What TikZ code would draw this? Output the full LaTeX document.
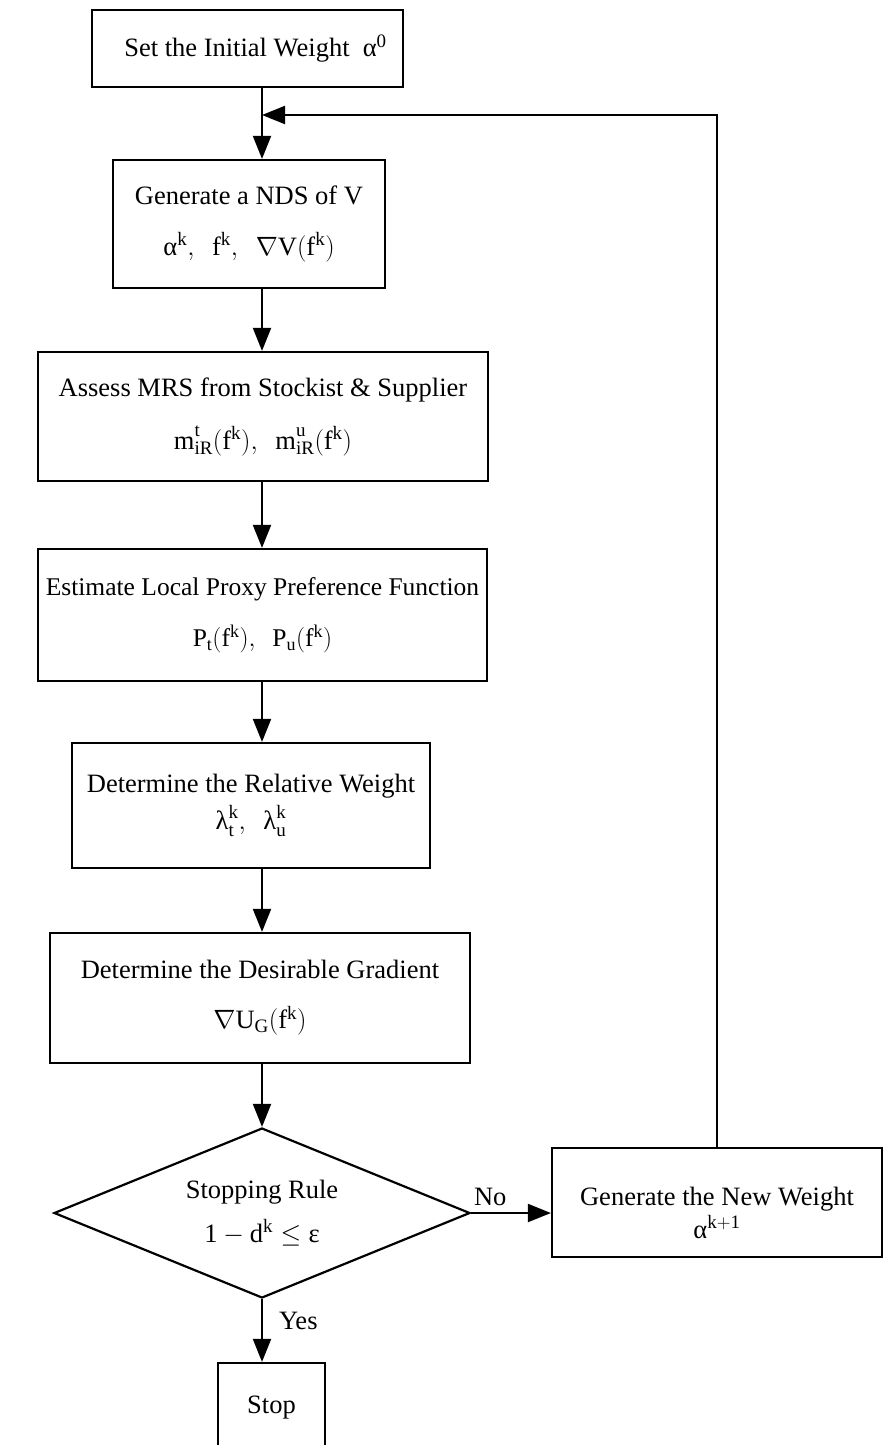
\documentclass[tikz,border=0pt]{standalone}
\usepackage{fix-cm}
\usepackage{fontspec}
\setmainfont{Liberation Serif}
\usetikzlibrary{arrows.meta,shapes.geometric}
\DeclareMathSizes{26.5}{26.5}{19}{15}
\DeclareMathSizes{25.5}{25.5}{18}{14}
% upright letters inside formulas
\newcommand\upr[1]{\mathrm{#1}}
\newcommand\gr[1]{\mbox{#1}}
\begin{document}
\begin{tikzpicture}[x=1pt,y=-1pt,
  every node/.style={font=\fontsize{26.5}{31}\selectfont},
  stepbox/.style={draw,line width=2.2pt,align=center,inner sep=0pt},
  decision/.style={diamond,aspect=2.45,draw,line width=2.2pt,align=center,inner sep=0pt},
  flow/.style={line width=2pt,-{Triangle[length=23pt,width=18pt]}},
  link/.style={line width=2pt},
  lbl/.style={inner sep=2pt}
]
\useasboundingbox (0,0) rectangle (884,1445);

\coordinate (spine) at (262,0);
\coordinate (join) at (262,115);

\node[stepbox,minimum width=311pt,minimum height=77pt] (b1) at (247.5,48.5)
  {\hspace*{16pt}Set the Initial Weight \ $\gr{α}^{\upr 0}$};
\node[stepbox,minimum width=272pt,minimum height=128pt] (b2) at (249,224)
  {Generate a NDS of V\\[20pt]
   $\gr{α}^{\upr k},\ \ \upr f^{\upr k},\ \ \nabla\upr V(\upr f^{\upr k})$};
\node[stepbox,minimum width=450pt,minimum height=129pt] (b3) at (263,416.5)
  {Assess MRS from Stockist \& Supplier\\[22pt]
   $\upr m^{\upr t\vphantom{g}}_{\upr{iR}}(\upr f^{\upr k}),\ \ \upr m^{\upr u\vphantom{g}}_{\upr{iR}}(\upr f^{\upr k})$};
\node[stepbox,minimum width=449pt,minimum height=132pt,
      font=\fontsize{25.5}{30}\selectfont] (b4) at (262.5,615)
  {Estimate Local Proxy Preference Function\\[21pt]
   $\upr P_{\upr t}(\upr f^{\upr k}),\ \ \upr P_{\upr u}(\upr f^{\upr k})$};
\node[stepbox,minimum width=358pt,minimum height=125pt] (b5) at (251,805.5)
  {Determine the Relative Weight\\[6pt]
   $\gr{λ}^{\upr k}_{\upr t},\ \ \gr{λ}^{\upr k}_{\upr u}$};
\node[stepbox,minimum width=420pt,minimum height=130pt] (b6) at (260,998)
  {Determine the Desirable Gradient\\[19pt]
   $\nabla\upr U_{\upr G}(\upr f^{\upr k})$};
\node[decision,minimum width=416pt,minimum height=170pt] (d) at (262,1213)
  {Stopping Rule\\[13pt]
   $\upr 1-\upr d^{\upr k}\leq\gr{ε}$};
\node[stepbox,minimum width=107pt,minimum height=90pt] (stop) at (271.5,1408) {Stop};
\node[stepbox,minimum width=330pt,minimum height=109pt] (nw) at (717,1202.5) {};
\node[align=center,inner sep=0pt] (nwtext) at (717,1213)
  {Generate the New Weight\\[2pt] $\gr{α}^{\upr{k+1}}$};

% main sequence
\draw[link] (b1.south -| spine) -- (join);
\draw[flow] (join) -- (b2.north -| spine);
\draw[flow] (b2.south -| spine) -- (b3.north -| spine);
\draw[flow] (b3.south -| spine) -- (b4.north -| spine);
\draw[flow] (b4.south -| spine) -- (b5.north -| spine);
\draw[flow] (b5.south -| spine) -- (b6.north -| spine);
\draw[flow] (b6.south -| spine) -- (d.north);
\draw[flow] (d.south) -- node[lbl,pos=0.34,right=14pt] {Yes} (stop.north -| spine);
\draw[flow] (d.east) -- node[lbl,pos=0.24,above=4pt] {No} (d.east -| nw.west);

% feedback loop
\draw[flow] (nw.north) |- (join);
\end{tikzpicture}
\end{document}
